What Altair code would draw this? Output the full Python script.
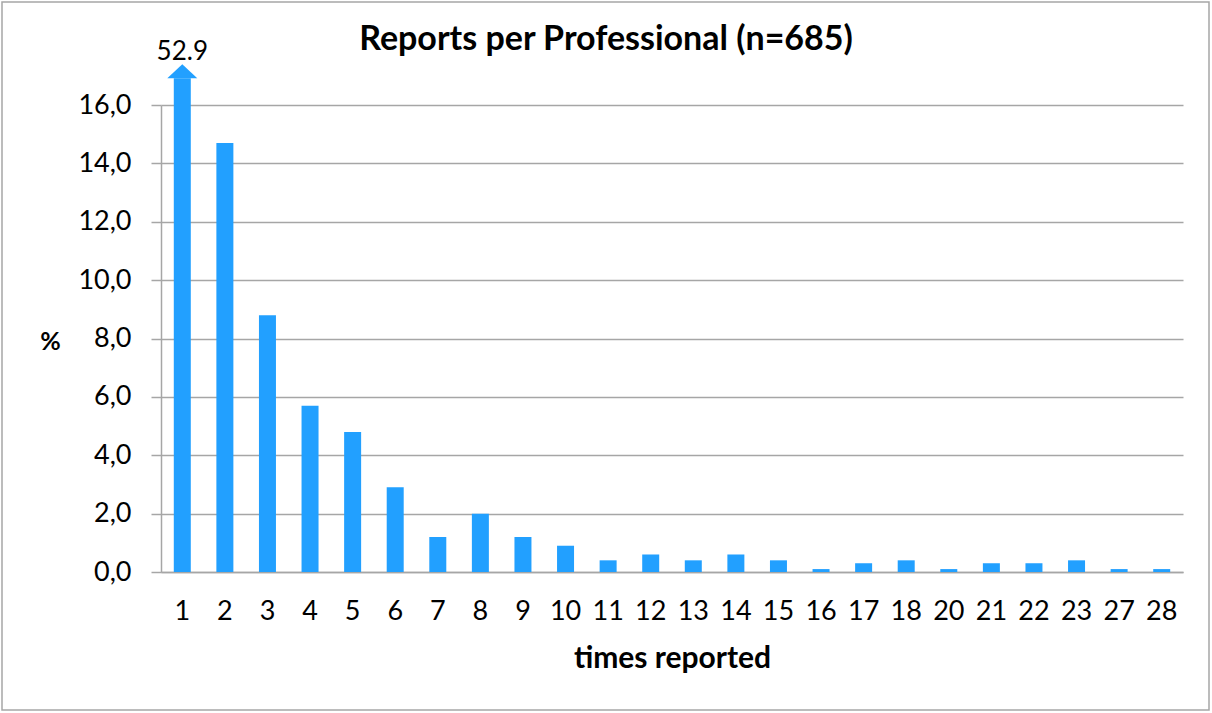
import altair as alt
import pandas as pd

categories = ["1", "2", "3", "4", "5", "6", "7", "8", "9", "10", "11", "12",
              "13", "14", "15", "16", "17", "18", "20", "21", "22", "23", "27", "28"]
percent = [52.9, 14.7, 8.8, 5.7, 4.8, 2.9, 1.2, 2.0, 1.2, 0.9, 0.4, 0.6,
           0.4, 0.6, 0.4, 0.1, 0.3, 0.4, 0.1, 0.3, 0.3, 0.4, 0.1, 0.1]
y_max = 16
overflow_top = 16.92
title_text = "Reports per Professional (n=685)"

df = pd.DataFrame({"times": categories, "pct": percent})
df["shown"] = [min(v, overflow_top) if v > y_max else v for v in percent]
over = df[df["pct"] > y_max].copy()
over["label"] = over["pct"].map(lambda v: f"{v}")

FONT = "Lato"
BLUE = "#22A0FF"
GRID = "#A6A6A6"

xenc = alt.X("times:N", sort=categories,
             scale=alt.Scale(paddingInner=0.6, paddingOuter=0.3),
             axis=alt.Axis(title="times reported", labelAngle=0, ticks=False,
                           labelFontSize=27, labelPadding=26, labelColor="black",
                           titleFontSize=30, titleFontWeight="bold", titlePadding=19,
                           titleColor="black", domainColor=GRID, domainWidth=1.5,
                           grid=False))
yscale = alt.Scale(domain=[0, y_max], nice=False)

bars = alt.Chart(df).mark_bar(size=17, color=BLUE, clip=False).encode(
    x=xenc,
    y=alt.Y("shown:Q", scale=yscale,
            axis=alt.Axis(title="%", titleAngle=0, titleX=-111, titleY=236,
                          titleAlign="center", titleBaseline="middle",
                          titleFontSize=25, titleFontWeight="bold", titleColor="black",
                          values=[0, 2, 4, 6, 8, 10, 12, 14, 16],
                          labelExpr="replace(format(datum.value, '.1f'), '.', ',')",
                          labelFontSize=27, labelColor="black", labelPadding=20,
                          tickSize=10, tickColor=GRID, tickWidth=1.5,
                          domainColor=GRID, domainWidth=1.5,
                          gridColor=GRID, gridWidth=1.5)),
)

arrow = alt.Chart(over).mark_point(
    shape="M -1 0 L 1 0 L 0 -0.93 Z", filled=True, color=BLUE, opacity=1,
    size=900, clip=False
).encode(x=alt.X("times:N", sort=categories), y=alt.Y("shown:Q", scale=yscale))

label = alt.Chart(over).mark_text(
    fontSize=26, font=FONT, baseline="alphabetic", dy=-18, color="black"
).encode(x=alt.X("times:N", sort=categories), y=alt.Y("shown:Q", scale=yscale),
         text="label:N")

title = alt.Chart(pd.DataFrame({"t": [title_text]})).mark_text(
    fontSize=34, fontWeight="bold", font=FONT, baseline="alphabetic",
    align="center", color="black"
).encode(x=alt.value(445), y=alt.value(-55), text="t:N")

frame = alt.Chart(pd.DataFrame({"a": [0]})).mark_rect(
    fill=None, stroke="#A6A6A6", strokeWidth=1.5, clip=False
).encode(x=alt.value(-159), x2=alt.value(1048), y=alt.value(-103), y2=alt.value(605))

chart = alt.layer(frame, bars, arrow, label, title).properties(
    width=1022, height=467,
    autosize=alt.AutoSizeParams(type="none"),
    padding={"left": 161, "top": 105, "right": 29, "bottom": 141},
).configure(font=FONT, background="white").configure_view(stroke=None).configure_axis(
    labelFont=FONT, titleFont=FONT
)

chart.save("out.html", embed_options={"renderer": "svg", "actions": False})
